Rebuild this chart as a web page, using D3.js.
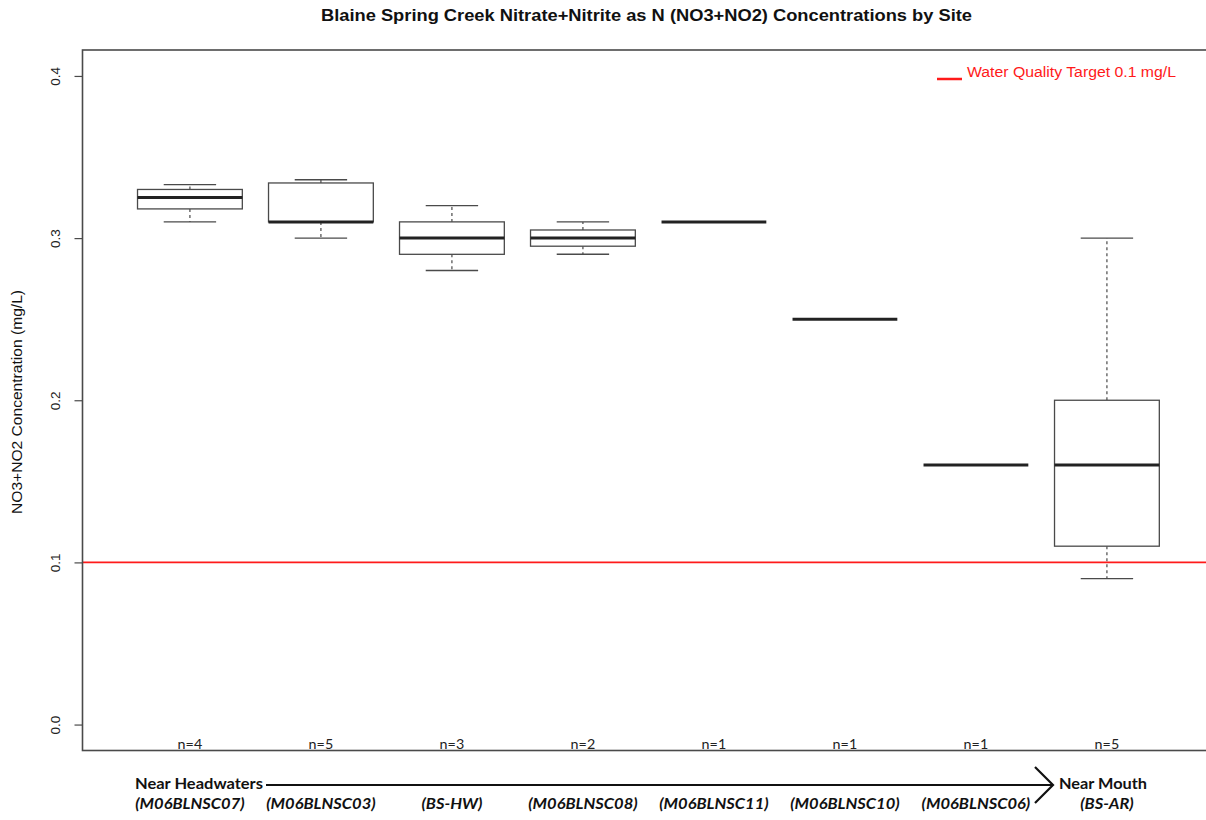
<!DOCTYPE html>
<html>
<head>
<meta charset="utf-8">
<script src="https://cdn.jsdelivr.net/npm/d3@7"></script>
<style>
  html, body { margin: 0; padding: 0; background: #fff; }
  svg { display: block; }
</style>
</head>
<body>
<svg id="chart" width="1206" height="820"></svg>
<script>
// ---- Data ----
const sites = ["M06BLNSC07", "M06BLNSC03", "BS-HW", "M06BLNSC08", "M06BLNSC11", "M06BLNSC10", "M06BLNSC06", "BS-AR"];
const counts = [4, 5, 3, 2, 1, 1, 1, 5];
const whiskerLow  = [0.310, 0.300, 0.280, 0.290, 0.310, 0.250, 0.160, 0.090];
const q1          = [0.318, 0.310, 0.290, 0.295, 0.310, 0.250, 0.160, 0.110];
const medians     = [0.325, 0.310, 0.300, 0.300, 0.310, 0.250, 0.160, 0.160];
const q3          = [0.330, 0.334, 0.310, 0.305, 0.310, 0.250, 0.160, 0.200];
const whiskerHigh = [0.333, 0.336, 0.320, 0.310, 0.310, 0.250, 0.160, 0.300];
const yTicks = [0.0, 0.1, 0.2, 0.3, 0.4];
const targetValue = 0.1;
const titleText = "Blaine Spring Creek Nitrate+Nitrite as N (NO3+NO2) Concentrations by Site";
const yLabel = "NO3+NO2 Concentration (mg/L)";
const legendText = "Water Quality Target 0.1 mg/L";

const boxes = sites.map((s, i) => ({
  site: s, idx: i + 1, n: counts[i],
  lo: whiskerLow[i], q1: q1[i], med: medians[i], q3: q3[i], hi: whiskerHigh[i]
}));

// ---- Layout ----
const svg = d3.select("#chart");
const pLeft = 82.5, pTop = 50, pBottom = 750.5;
const unit = 131;
const x = d3.scaleLinear().domain([0.18, 8.82]).range([pLeft, pLeft + 8.64 * unit]);
const y = d3.scaleLinear().domain([-0.016, 0.416]).range([pBottom, pTop]);
const boxW = x(0.8) - x(0);
const capW = boxW / 2;
const lineCol = "#4a4a4a";

function stretch(sel, k) {
  sel.each(function () {
    const w = this.getComputedTextLength();
    d3.select(this).attr("textLength", w * k).attr("lengthAdjust", "spacingAndGlyphs");
  });
}

// Title
svg.append("text")
  .attr("x", 646.5).attr("y", 21)
  .attr("text-anchor", "middle")
  .attr("font-family", "Liberation Sans, Arial, sans-serif")
  .attr("font-weight", "bold")
  .attr("font-size", 16)
  .attr("fill", "#111")
  .attr("textLength", 651).attr("lengthAdjust", "spacingAndGlyphs")
  .text(titleText);

// Y axis
const yAxis = d3.axisLeft(y).tickValues(yTicks).tickFormat(d3.format(".1f")).tickSize(8).tickSizeOuter(0);
const gy = svg.append("g").attr("transform", `translate(${pLeft},0)`).call(yAxis);
gy.select(".domain").remove();
gy.selectAll(".tick line").attr("stroke", lineCol).attr("stroke-width", 1.2);
gy.selectAll(".tick text")
  .attr("font-family", "Liberation Sans, Arial, sans-serif")
  .attr("font-size", 13.5)
  .attr("fill", "#222")
  .attr("x", null)
  .attr("text-anchor", "middle")
  .attr("transform", "translate(-27,0) rotate(-90)")
  .attr("y", 0).attr("dy", "0.35em");

svg.append("text")
  .attr("transform", `translate(22,402) rotate(-90)`)
  .attr("text-anchor", "middle")
  .attr("font-family", "Liberation Sans, Arial, sans-serif")
  .attr("font-size", 14.5)
  .attr("fill", "#111")
  .attr("textLength", 224).attr("lengthAdjust", "spacingAndGlyphs")
  .text(yLabel);

// Target line
svg.append("line")
  .attr("x1", pLeft).attr("x2", 1206)
  .attr("y1", y(targetValue)).attr("y2", y(targetValue))
  .attr("stroke", "#ff1a1a").attr("stroke-width", 1.6);

// Boxes
const g = svg.append("g");
const bx = g.selectAll("g.box").data(boxes).enter().append("g").attr("class", "box");

// whiskers (dashed)
bx.filter(d => d.hi > d.q3).append("line")
  .attr("x1", d => x(d.idx)).attr("x2", d => x(d.idx))
  .attr("y1", d => y(d.q3)).attr("y2", d => y(d.hi))
  .attr("stroke", lineCol).attr("stroke-width", 1.2).attr("stroke-dasharray", "3,3");
bx.filter(d => d.lo < d.q1).append("line")
  .attr("x1", d => x(d.idx)).attr("x2", d => x(d.idx))
  .attr("y1", d => y(d.q1)).attr("y2", d => y(d.lo))
  .attr("stroke", lineCol).attr("stroke-width", 1.2).attr("stroke-dasharray", "3,3");
// caps
bx.filter(d => d.hi > d.lo).append("line")
  .attr("x1", d => x(d.idx) - capW / 2).attr("x2", d => x(d.idx) + capW / 2)
  .attr("y1", d => y(d.hi)).attr("y2", d => y(d.hi))
  .attr("stroke", lineCol).attr("stroke-width", 1.4);
bx.filter(d => d.hi > d.lo).append("line")
  .attr("x1", d => x(d.idx) - capW / 2).attr("x2", d => x(d.idx) + capW / 2)
  .attr("y1", d => y(d.lo)).attr("y2", d => y(d.lo))
  .attr("stroke", lineCol).attr("stroke-width", 1.4);
// box
bx.filter(d => d.q3 > d.q1).append("rect")
  .attr("x", d => x(d.idx) - boxW / 2).attr("width", boxW)
  .attr("y", d => y(d.q3)).attr("height", d => y(d.q1) - y(d.q3))
  .attr("fill", "#fff").attr("stroke", lineCol).attr("stroke-width", 1.3);
// median
bx.append("line")
  .attr("x1", d => x(d.idx) - boxW / 2).attr("x2", d => x(d.idx) + boxW / 2)
  .attr("y1", d => y(d.med)).attr("y2", d => y(d.med))
  .attr("stroke", "#222").attr("stroke-width", 3);

// n labels
bx.append("text")
  .attr("x", d => x(d.idx)).attr("y", pBottom - 1.5)
  .attr("text-anchor", "middle")
  .attr("font-family", "Lato, sans-serif")
  .attr("font-size", 13)
  .attr("fill", "#222")
  .text(d => "n=" + d.n)
  .call(stretch, 1.1);

// Frame
svg.append("rect")
  .attr("x", pLeft).attr("y", pTop)
  .attr("width", x(8.82) - pLeft).attr("height", pBottom - pTop)
  .attr("fill", "none").attr("stroke", lineCol).attr("stroke-width", 1.6);

// Legend
svg.append("line")
  .attr("x1", 937).attr("x2", 962).attr("y1", 79).attr("y2", 79)
  .attr("stroke", "#ff1a1a").attr("stroke-width", 2.5);
svg.append("text")
  .attr("x", 967).attr("y", 77)
  .attr("font-family", "Liberation Sans, Arial, sans-serif")
  .attr("font-size", 15.5)
  .attr("fill", "#ff1a1a")
  .attr("textLength", 209).attr("lengthAdjust", "spacingAndGlyphs")
  .text(legendText);

// Bottom annotations
const bf = "Lato, sans-serif";
svg.append("text")
  .attr("x", 135).attr("y", 789)
  .attr("font-family", bf).attr("font-weight", "bold").attr("font-size", 15)
  .attr("fill", "#111")
  .attr("textLength", 128).attr("lengthAdjust", "spacingAndGlyphs")
  .text("Near Headwaters");
svg.append("text")
  .attr("x", 1059).attr("y", 789)
  .attr("font-family", bf).attr("font-weight", "bold").attr("font-size", 15)
  .attr("fill", "#111")
  .attr("textLength", 88).attr("lengthAdjust", "spacingAndGlyphs")
  .text("Near Mouth");
svg.append("line")
  .attr("x1", 266).attr("x2", 1052).attr("y1", 785).attr("y2", 785)
  .attr("stroke", "#111").attr("stroke-width", 2.2);
svg.append("path")
  .attr("d", "M1035,767 L1053,785 L1035,803")
  .attr("fill", "none").attr("stroke", "#111").attr("stroke-width", 2.2);

bx.append("text")
  .attr("x", d => x(d.idx)).attr("y", 809)
  .attr("text-anchor", "middle")
  .attr("font-family", bf).attr("font-weight", "bold").attr("font-style", "italic")
  .attr("font-size", 15)
  .attr("fill", "#111")
  .text(d => "(" + d.site + ")")
  .call(stretch, 1.1);
</script>
</body>
</html>
